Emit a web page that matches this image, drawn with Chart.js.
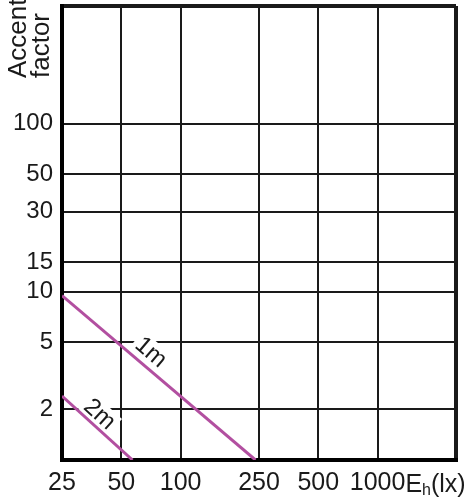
<!DOCTYPE html>
<html>
<head>
<meta charset="utf-8">
<script src="https://cdn.jsdelivr.net/npm/chart.js@4/dist/chart.umd.min.js"></script>
<style>
  html, body { margin: 0; padding: 0; background: #fff; }
  canvas { display: block; }
</style>
</head>
<body>
<canvas id="c" width="464" height="500"></canvas>
<script>
// ---- data ----
const xTickValues = [25, 50, 100, 250, 500, 1000];
const yTickValues = [2, 5, 10, 15, 30, 50, 100];
const xRange = [25, 2500];
const yRange = [1, 500];
const seriesNames = ['1m', '2m'];
const line1m = [{ x: 25, y: 9.5 }, { x: 240, y: 1 }];
const line2m = [{ x: 25, y: 2.4 }, { x: 57, y: 1 }];
const labelXs = [71, 39];
const labelYs = [4.4, 1.88];
const yTitleLines = ['Accent', 'factor'];
const xTitleMain = 'E', xTitleSub = 'h', xTitleUnit = '(lx)';

const FONT = '"Liberation Sans", Arial, sans-serif';
const INK = '#1a1a1a';
const LINE = '#b24fa0';

const annotate = {
  id: 'annotate',
  beforeDatasetsDraw(chart) {
    const ctx = chart.ctx;
    const xs = chart.scales.x, ys = chart.scales.y;
    ctx.save();
    ctx.font = '24px ' + FONT;
    chart.data.datasets.forEach((ds, i) => {
      const p0 = ds.data[0], p1 = ds.data[ds.data.length - 1];
      const ang = Math.atan2(ys.getPixelForValue(p1.y) - ys.getPixelForValue(p0.y),
                             xs.getPixelForValue(p1.x) - xs.getPixelForValue(p0.x));
      const px = xs.getPixelForValue(labelXs[i]);
      const py = ys.getPixelForValue(labelYs[i]);
      const w = ctx.measureText(seriesNames[i]).width;
      ctx.save();
      ctx.translate(px, py);
      ctx.rotate(ang);
      ctx.fillStyle = '#fff';
      ctx.fillRect(-w / 2 - 3, -11, w + 6, 22);
      ctx.fillStyle = INK;
      ctx.textAlign = 'center';
      ctx.textBaseline = 'middle';
      ctx.fillText(seriesNames[i], 0, 1);
      ctx.restore();
    });
    ctx.restore();
  },
  afterDraw(chart) {
    const ctx = chart.ctx;
    const xs = chart.scales.x;
    ctx.save();
    ctx.fillStyle = INK;
    // y axis title, rotated
    ctx.font = '26px ' + FONT;
    ctx.textAlign = 'left';
    ctx.textBaseline = 'alphabetic';
    const titleX = [26, 49];
    yTitleLines.forEach((t, i) => {
      ctx.save();
      ctx.translate(titleX[i], 78);
      ctx.rotate(-Math.PI / 2);
      ctx.fillText(t, 0, 0);
      ctx.restore();
    });
    // x axis title E_h(lx), after the last tick label
    ctx.font = '25px ' + FONT;
    const last = xTickValues[xTickValues.length - 1];
    let x = xs.getPixelForValue(last) + ctx.measureText(String(last)).width / 2;
    const base = 492;
    ctx.fillText(xTitleMain, x, base);
    x += ctx.measureText(xTitleMain).width;
    ctx.font = '16px ' + FONT;
    ctx.fillText(xTitleSub, x, base + 3);
    x += ctx.measureText(xTitleSub).width;
    ctx.font = '25px ' + FONT;
    ctx.fillText(xTitleUnit, x, base);
    ctx.restore();
  }
};

const edgeWidth = (vals) => (c) => (c.tick && (c.tick.value === vals[0] || c.tick.value === vals[1])) ? 4 : 2;

new Chart(document.getElementById('c'), {
  type: 'scatter',
  data: {
    datasets: [
      { label: seriesNames[0], data: line1m },
      { label: seriesNames[1], data: line2m }
    ].map(d => Object.assign(d, {
      showLine: true, borderColor: LINE, backgroundColor: LINE,
      borderWidth: 3, pointRadius: 0, tension: 0
    }))
  },
  options: {
    responsive: false,
    devicePixelRatio: 1,
    animation: false,
    layout: { padding: { top: 6, right: 8, left: 0, bottom: 0 } },
    plugins: { legend: { display: false }, tooltip: { enabled: false } },
    scales: {
      x: {
        type: 'logarithmic',
        min: xRange[0], max: xRange[1],
        afterBuildTicks: (s) => { s.ticks = xTickValues.concat([xRange[1]]).map(v => ({ value: v })); },
        afterFit: (s) => { s.height = 40; s.paddingLeft = 0; s.paddingRight = 0; },
        ticks: {
          autoSkip: false, maxRotation: 0, minRotation: 0, padding: 8,
          color: INK, font: { family: FONT, size: 25 },
          callback: (v) => xTickValues.includes(v) ? String(v) : ''
        },
        grid: { color: INK, lineWidth: edgeWidth(xRange), drawTicks: false },
        border: { display: true, color: '#000', width: 4 }
      },
      y: {
        type: 'logarithmic',
        min: yRange[0], max: yRange[1],
        afterBuildTicks: (s) => { s.ticks = [yRange[0]].concat(yTickValues, [yRange[1]]).map(v => ({ value: v })); },
        afterFit: (s) => { s.width = 62; s.paddingTop = 0; s.paddingBottom = 0; },
        ticks: {
          autoSkip: false, padding: 9,
          color: INK, font: { family: FONT, size: 24 },
          callback: (v) => yTickValues.includes(v) ? String(v) : ''
        },
        grid: { color: INK, lineWidth: edgeWidth(yRange), drawTicks: false },
        border: { display: true, color: '#000', width: 4 }
      }
    }
  },
  plugins: [annotate]
});
</script>
</body>
</html>
